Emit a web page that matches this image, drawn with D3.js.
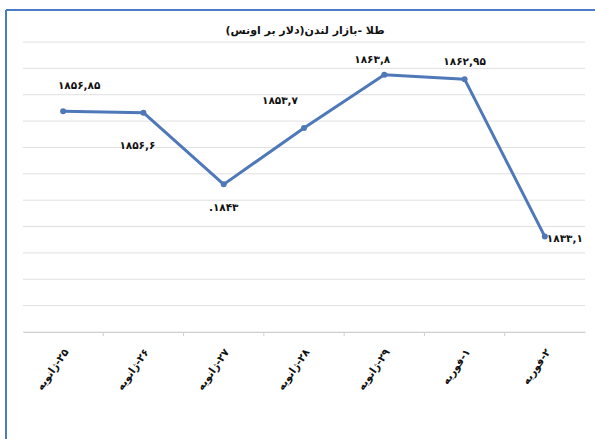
<!DOCTYPE html>
<html>
<head>
<meta charset="utf-8">
<script src="https://cdn.jsdelivr.net/npm/d3@7"></script>
<style>
  body { margin: 0; background: #fff; }
  text { font-family: "DejaVu Sans", sans-serif; }
</style>
</head>
<body>
<div id="chart"></div>
<script>
var categories = ['۲۵-ژانویه', '۲۶-ژانویه', '۲۷-ژانویه', '۲۸-ژانویه', '۲۹-ژانویه', '۱-فوریه', '۲-فوریه'];
var prices = [1856.85, 1856.6, 1843, 1853.7, 1863.8, 1862.95, 1833.1];
var priceLabels = ['۱۸۵۶,۸۵', '۱۸۵۶,۶', '.۱۸۴۳', '۱۸۵۳,۷', '۱۸۶۳,۸', '۱۸۶۲,۹۵', '۱۸۳۳,۱'];
var yTicks = [1815, 1820, 1825, 1830, 1835, 1840, 1845, 1850, 1855, 1860, 1865, 1870];
var title = 'طلا -بازار لندن(دلار بر اونس)';

var width = 595;
var height = 439;
var margin = {
    top: 42,
    right: 10,
    bottom: 107,
    left: 23
};

var svg = d3.select('#chart')
    .append('svg')
    .attr('width', width)
    .attr('height', height);

// chart frame
svg.append('line')
    .attr('x1', 6).attr('x2', width)
    .attr('y1', 10).attr('y2', 10)
    .attr('stroke', '#4a7cc8').attr('stroke-width', 2);
svg.append('line')
    .attr('x1', 6).attr('x2', 6)
    .attr('y1', 10).attr('y2', height)
    .attr('stroke', '#4a7cc8').attr('stroke-width', 2);

var x = d3.scaleBand()
    .domain(categories)
    .range([margin.left, width - margin.right]);

var y = d3.scaleLinear()
    .domain([1815, 1870])
    .range([height - margin.bottom, margin.top]);

// gridlines
svg.append('g')
    .selectAll('line')
    .data(yTicks)
    .join('line')
    .attr('x1', margin.left)
    .attr('x2', width - margin.right)
    .attr('y1', d => y(d))
    .attr('y2', d => y(d))
    .attr('stroke', '#e0e0e0')
    .attr('stroke-width', 1);

var xAxis = g => g
    .attr('transform', `translate(0,${height - margin.bottom})`)
    .call(d3.axisBottom(x).tickSize(0).tickFormat(''))
    .call(g => g.select('.domain').attr('stroke', '#d0d0d0'));

svg.append('g').call(xAxis);

// category boundary ticks
svg.append('g')
    .selectAll('line')
    .data(categories.slice(1))
    .join('line')
    .attr('x1', d => x(d))
    .attr('x2', d => x(d))
    .attr('y1', y(1815))
    .attr('y2', y(1815) + 4)
    .attr('stroke', '#d0d0d0');

// category labels
svg.append('g')
    .selectAll('text')
    .data(categories)
    .join('text')
    .attr('transform', d => `translate(${x(d) + x.bandwidth() / 2 + 6},${y(1815) + 20}) rotate(-55)`)
    .attr('direction', 'rtl')
    .attr('text-anchor', 'start')
    .attr('font-size', 10.5)
    .attr('font-weight', 'bold')
    .attr('fill', '#111')
    .text(d => d);

var line = d3.line()
    .x((d, i) => x(categories[i]) + x.bandwidth() / 2)
    .y(d => y(d));

svg.append('path')
    .datum(prices)
    .attr('fill', 'none')
    .attr('stroke', '#4f78b8')
    .attr('stroke-width', 3)
    .attr('stroke-linejoin', 'round')
    .attr('d', line);

svg.append('g')
    .selectAll('circle')
    .data(prices)
    .join('circle')
    .attr('cx', (d, i) => x(categories[i]) + x.bandwidth() / 2)
    .attr('cy', d => y(d))
    .attr('r', 3)
    .attr('fill', '#4f78b8');

// data labels: offsets relative to the point
var labelOffsets = [[16, -22], [-6, 36], [0, 27], [-24, -24], [-12, -12], [0, -14], [20, 5]];

svg.append('g')
    .selectAll('text')
    .data(prices)
    .join('text')
    .attr('x', (d, i) => x(categories[i]) + x.bandwidth() / 2 + labelOffsets[i][0])
    .attr('y', (d, i) => y(d) + labelOffsets[i][1])
    .attr('text-anchor', 'middle')
    .attr('font-size', 10.5)
    .attr('font-weight', 'bold')
    .attr('fill', '#111')
    .text((d, i) => priceLabels[i]);

svg.append('text')
    .attr('x', 305)
    .attr('y', 34)
    .attr('direction', 'rtl')
    .attr('text-anchor', 'middle')
    .attr('font-size', 11)
    .attr('font-weight', 'bold')
    .attr('fill', '#111')
    .text(title);
</script>
</body>
</html>
